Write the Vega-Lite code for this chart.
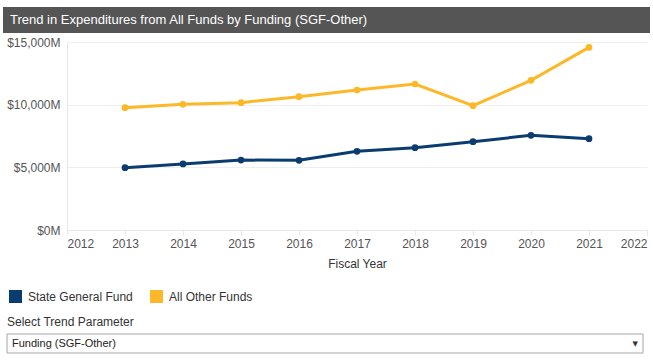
{
  "$schema": "https://vega.github.io/schema/vega-lite/v6.json",
  "padding": {"left": 3, "top": 7, "right": 3, "bottom": 0},
  "background": "white",
  "config": {
    "font": "Liberation Sans",
    "view": {"stroke": null},
    "title": {"font": "Liberation Sans"}
  },
  "spacing": 3,
  "vconcat": [
    {
      "width": 647,
      "height": 26,
      "view": {"fill": "#555555", "stroke": null},
      "data": {"values": [{"t": "Trend in Expenditures from All Funds by Funding (SGF-Other)"}]},
      "mark": {"type": "text", "align": "left", "baseline": "middle", "color": "white", "fontSize": 13, "dx": 7},
      "encoding": {
        "x": {"datum": 0, "type": "quantitative", "scale": {"domain": [0, 1]}, "axis": null},
        "y": {"datum": 0.5, "type": "quantitative", "scale": {"domain": [0, 1]}, "axis": null},
        "text": {"field": "t"}
      }
    },
    {
      "spacing": 46,
      "vconcat": [
        {
          "width": 644,
          "height": 188,
          "data": {"values": [
            {"year": 2013, "series": "State General Fund", "value": 4970},
            {"year": 2014, "series": "State General Fund", "value": 5270},
            {"year": 2015, "series": "State General Fund", "value": 5580},
            {"year": 2016, "series": "State General Fund", "value": 5560},
            {"year": 2017, "series": "State General Fund", "value": 6280},
            {"year": 2018, "series": "State General Fund", "value": 6570},
            {"year": 2019, "series": "State General Fund", "value": 7050},
            {"year": 2020, "series": "State General Fund", "value": 7550},
            {"year": 2021, "series": "State General Fund", "value": 7290},
            {"year": 2013, "series": "All Other Funds", "value": 9760},
            {"year": 2014, "series": "All Other Funds", "value": 10030},
            {"year": 2015, "series": "All Other Funds", "value": 10160},
            {"year": 2016, "series": "All Other Funds", "value": 10640},
            {"year": 2017, "series": "All Other Funds", "value": 11170},
            {"year": 2018, "series": "All Other Funds", "value": 11650},
            {"year": 2019, "series": "All Other Funds", "value": 9920},
            {"year": 2020, "series": "All Other Funds", "value": 11940},
            {"year": 2021, "series": "All Other Funds", "value": 14570}
          ]},
          "mark": {"type": "line", "strokeWidth": 3, "point": {"filled": true, "size": 45}},
          "encoding": {
            "x": {
              "field": "year", "type": "quantitative",
              "scale": {"domain": [2012, 2022], "nice": false, "zero": false, "range": [64, 644]},
              "axis": {
                "title": "Fiscal Year", "format": "d",
                "values": [2012, 2013, 2014, 2015, 2016, 2017, 2018, 2019, 2020, 2021, 2022],
                "labelFlush": true, "grid": false,
                "domainColor": "#e6e6e6", "tickColor": "#e6e6e6", "tickSize": 5,
                "labelColor": "#555555", "labelFontSize": 12, "labelPadding": 3,
                "titleColor": "#333333", "titleFontSize": 12, "titleFontWeight": "normal", "titlePadding": 9
              }
            },
            "y": {
              "field": "value", "type": "quantitative",
              "scale": {"domain": [0, 15000], "nice": false},
              "axis": {
                "title": null, "offset": -64,
                "values": [0, 5000, 10000, 15000],
                "labelExpr": "'$' + format(datum.value, ',') + 'M'",
                "grid": true, "gridColor": "#efefef",
                "ticks": false, "domainColor": "#e6e6e6",
                "labelColor": "#555555", "labelFontSize": 12, "labelPadding": 7
              }
            },
            "color": {
              "field": "series", "type": "nominal",
              "scale": {"domain": ["State General Fund", "All Other Funds"], "range": ["#0b3c70", "#fbb829"]},
              "legend": {
                "orient": "none", "legendX": 6, "legendY": 283,
                "direction": "horizontal", "title": null,
                "symbolType": "square", "symbolSize": 169, "symbolStrokeWidth": 0,
                "symbolOpacity": 1,
                "labelFontSize": 12, "labelColor": "#333333", "labelOffset": 6,
                "columnPadding": 17
              }
            }
          }
        },
        {
          "width": 647,
          "height": 19,
          "title": {"text": "Select Trend Parameter", "anchor": "start", "frame": "group", "fontSize": 12, "fontWeight": "normal", "color": "#333333", "offset": 5, "dx": 4},
          "data": {"values": [{"label": "Funding (SGF-Other)", "arrow": "▼"}]},
          "encoding": {
            "y": {"datum": 0.5, "type": "quantitative", "scale": {"domain": [0, 1]}, "axis": null}
          },
          "layer": [
            {
              "mark": {"type": "rect", "fill": "white", "stroke": "#a6a6a6", "strokeWidth": 1},
              "encoding": {
                "x": {"datum": 0, "type": "quantitative", "scale": {"domain": [0, 1], "range": [4, 640]}, "axis": null},
                "x2": {"datum": 1},
                "y": {"datum": 0, "type": "quantitative"},
                "y2": {"datum": 1}
              }
            },
            {
              "mark": {"type": "text", "align": "left", "baseline": "middle", "fontSize": 11, "color": "#222222", "dx": 5},
              "encoding": {
                "x": {"datum": 0, "type": "quantitative"},
                "text": {"field": "label"}
              }
            },
            {
              "mark": {"type": "text", "align": "right", "baseline": "middle", "fontSize": 7, "color": "#333333", "dx": -5, "font": "DejaVu Sans"},
              "encoding": {
                "x": {"datum": 1, "type": "quantitative"},
                "text": {"field": "arrow"}
              }
            }
          ]
        }
      ]
    }
  ]
}
